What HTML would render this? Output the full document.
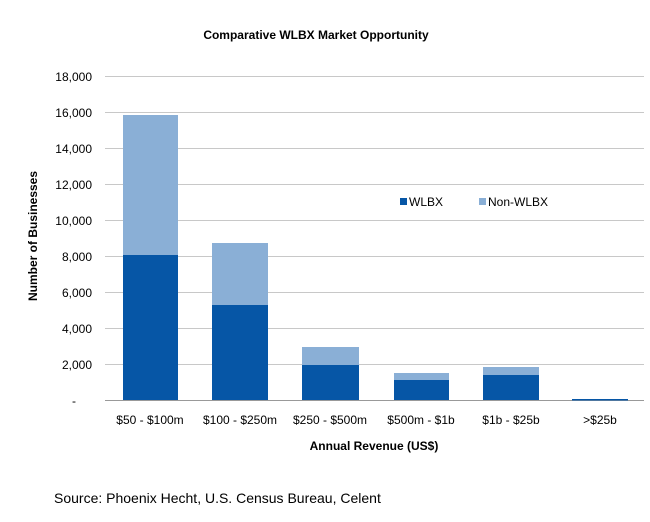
<!DOCTYPE html>
<html><head><style>body{margin:0;background:#fff}</style></head><body>
<svg width="650" height="517" xmlns="http://www.w3.org/2000/svg" font-family="Liberation Sans, Arial, sans-serif">
<rect width="650" height="517" fill="#fff"/>
<text x="316" y="39" font-size="12" font-weight="bold" text-anchor="middle" fill="#000">Comparative WLBX Market Opportunity</text>
<g stroke="#c8c8c8" stroke-width="1">
<line x1="105" x2="644" y1="76.5" y2="76.5"/><line x1="105" x2="644" y1="112.5" y2="112.5"/>
<line x1="105" x2="644" y1="148.5" y2="148.5"/><line x1="105" x2="644" y1="184.5" y2="184.5"/>
<line x1="105" x2="644" y1="220.5" y2="220.5"/><line x1="105" x2="644" y1="256.5" y2="256.5"/>
<line x1="105" x2="644" y1="292.5" y2="292.5"/><line x1="105" x2="644" y1="328.5" y2="328.5"/>
<line x1="105" x2="644" y1="364.5" y2="364.5"/>
</g>
<line x1="105" x2="644" y1="400.5" y2="400.5" stroke="#999"/>
<g font-size="12" fill="#000" text-anchor="end">
<text x="92" y="81">18,000</text><text x="92" y="117">16,000</text><text x="92" y="153">14,000</text>
<text x="92" y="189">12,000</text><text x="92" y="225">10,000</text><text x="92" y="261">8,000</text>
<text x="92" y="297">6,000</text><text x="92" y="333">4,000</text><text x="92" y="369">2,000</text>
<text x="76" y="405">-</text>
</g>
<text transform="translate(37,236) rotate(-90)" font-size="12" font-weight="bold" text-anchor="middle">Number of Businesses</text>
<g fill="#8aafd6">
<rect x="123" y="115" width="55" height="140"/><rect x="212" y="243" width="56" height="62"/>
<rect x="302" y="347" width="57" height="18"/><rect x="394" y="373" width="55" height="7"/>
<rect x="483" y="367" width="56" height="8"/>
</g>
<g fill="#0656a6">
<rect x="123" y="255" width="55" height="145"/><rect x="212" y="305" width="56" height="95"/>
<rect x="302" y="365" width="57" height="35"/><rect x="394" y="380" width="55" height="20"/>
<rect x="483" y="375" width="56" height="25"/><rect x="572" y="399" width="56" height="1.5"/>
</g>
<g font-size="12" text-anchor="middle" fill="#000">
<text x="150" y="424">$50 - $100m</text><text x="240" y="424">$100 - $250m</text>
<text x="330" y="424">$250 - $500m</text><text x="421" y="424">$500m - $1b</text>
<text x="511" y="424">$1b - $25b</text><text x="600" y="424">&gt;$25b</text>
</g>
<text x="374" y="450" font-size="12" font-weight="bold" text-anchor="middle">Annual Revenue (US$)</text>
<rect x="400" y="198" width="7" height="7" fill="#0656a6"/>
<text x="409" y="206" font-size="12">WLBX</text>
<rect x="479" y="198" width="7" height="7" fill="#8aafd6"/>
<text x="488" y="206" font-size="12">Non-WLBX</text>
<text x="54" y="503" font-size="14" fill="#000">Source: Phoenix Hecht, U.S. Census Bureau, Celent</text>
</svg>
</body></html>
